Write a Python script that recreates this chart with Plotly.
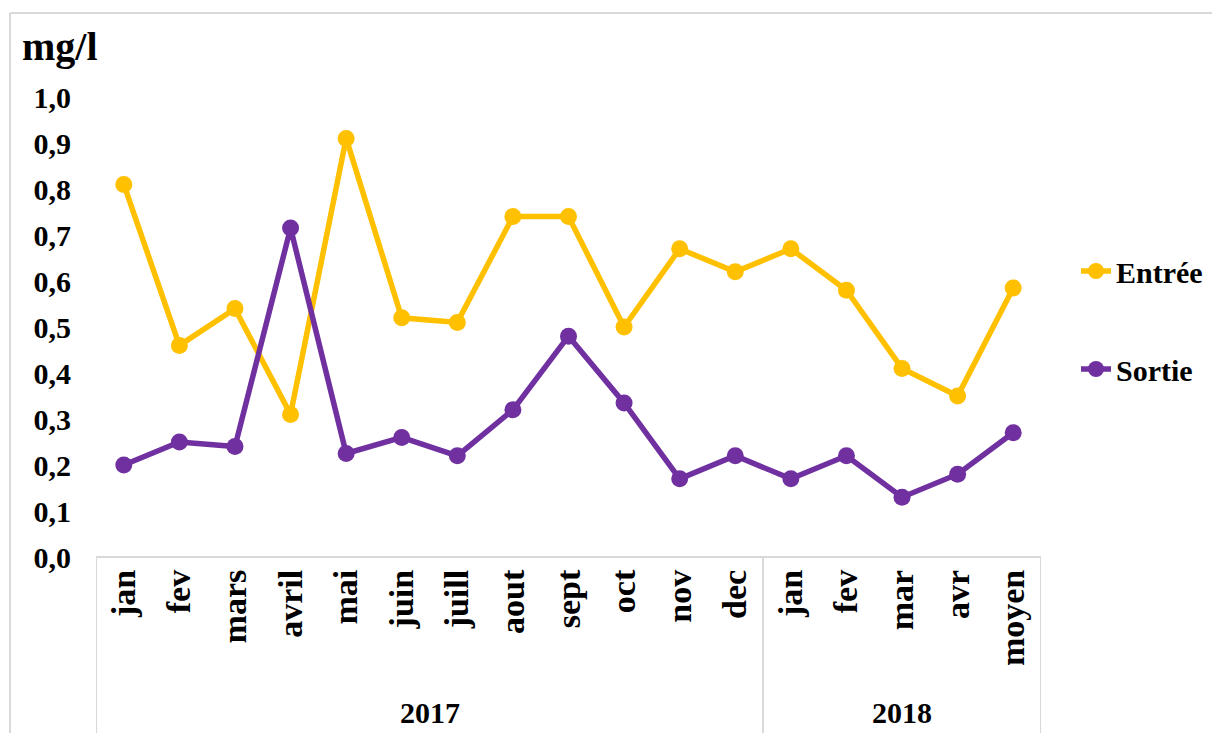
import plotly.graph_objects as go

months = ["jan", "fev", "mars", "avril", "mai", "juin", "juill", "aout", "sept",
          "oct", "nov", "dec", "jan", "fev", "mar", "avr", "moyen"]
years = ["2017", "2018"]
year_counts = [12, 5]
entree = [0.81, 0.46, 0.54, 0.31, 0.91, 0.52, 0.51, 0.74, 0.74,
          0.50, 0.67, 0.62, 0.67, 0.58, 0.41, 0.35, 0.585]
sortie = [0.20, 0.25, 0.24, 0.715, 0.225, 0.26, 0.22, 0.32, 0.48,
          0.335, 0.17, 0.22, 0.17, 0.22, 0.13, 0.18, 0.27]
y_ticks = [0.0, 0.1, 0.2, 0.3, 0.4, 0.5, 0.6, 0.7, 0.8, 0.9, 1.0]

FONT = "Times New Roman, Liberation Serif, DejaVu Serif, serif"
GOLD = "#FFC000"
PURPLE = "#7030A0"
GRID = "#D9D9D9"

x = list(range(len(months)))

fig = go.Figure()
fig.add_trace(go.Scatter(x=x, y=entree, name="Entrée", mode="lines+markers",
                         line=dict(color=GOLD, width=5.5), marker=dict(size=17, color=GOLD),
                         legendgroup="a"))
fig.add_trace(go.Scatter(x=x, y=sortie, name="Sortie", mode="lines+markers",
                         line=dict(color=PURPLE, width=5.5), marker=dict(size=17, color=PURPLE),
                         legendgroup="b"))

W, H = 1212, 733
L, R, T, B = 96, 1041, 97, 557
pw, ph = R - L, B - T

def px(v):
    return (v - L) / pw

def py(v):
    return (B - v) / ph

shapes = []
# outer frame
shapes.append(dict(type="line", xref="paper", yref="paper", x0=px(10), x1=px(1212), y0=py(13), y1=py(13),
                   line=dict(color=GRID, width=2)))
shapes.append(dict(type="line", xref="paper", yref="paper", x0=px(10), x1=px(10), y0=py(13), y1=py(733),
                   line=dict(color=GRID, width=2)))
# category box top
shapes.append(dict(type="line", xref="paper", yref="paper", x0=0, x1=1, y0=0, y1=0,
                   line=dict(color=GRID, width=2)))
# group separators
edges = [-0.5]
for c in year_counts:
    edges.append(edges[-1] + c)
for e in edges:
    shapes.append(dict(type="line", xref="x", yref="paper", x0=e, x1=e, y0=0, y1=py(740),
                       line=dict(color=GRID, width=2)))

annotations = []
start = -0.5
for yr, c in zip(years, year_counts):
    annotations.append(dict(x=start + c / 2, y=py(712), xref="x", yref="paper", text=yr,
                            showarrow=False, xanchor="center", yanchor="middle",
                            font=dict(family=FONT, size=30, color="black", weight="bold")))
    start += c
annotations.append(dict(x=px(20), y=py(46), xref="paper", yref="paper", text="mg/l",
                        showarrow=False, xanchor="left", yanchor="middle",
                        font=dict(family=FONT, size=40, color="black", weight="bold")))

fig.update_layout(
    width=W, height=H,
    margin=dict(l=L, r=W - R, t=T, b=H - B, autoexpand=False),
    paper_bgcolor="white", plot_bgcolor="white",
    separators=",.",
    shapes=shapes,
    annotations=annotations,
    showlegend=True,
    legend=dict(x=px(1076), xanchor="left", y=py(320), yanchor="middle",
                font=dict(family=FONT, size=30, color="black", weight="bold"),
                tracegroupgap=56, traceorder="grouped", bgcolor="rgba(0,0,0,0)"),
    xaxis=dict(range=[-0.5, len(months) - 0.5], tickmode="array", tickvals=x, ticktext=months,
               tickangle=-90, showgrid=False, zeroline=False, showline=False, ticks="",
               ticklabelstandoff=5, automargin=False,
               tickfont=dict(family=FONT, size=34, color="black", weight="bold")),
    yaxis=dict(range=[0, 1.0], tickmode="array", tickvals=y_ticks, tickformat=".1f",
               showgrid=False, zeroline=False, showline=False, ticks="",
               ticklabelstandoff=24, automargin=False,
               tickfont=dict(family=FONT, size=30, color="black", weight="bold")),
)

fig.write_html("out.html")
